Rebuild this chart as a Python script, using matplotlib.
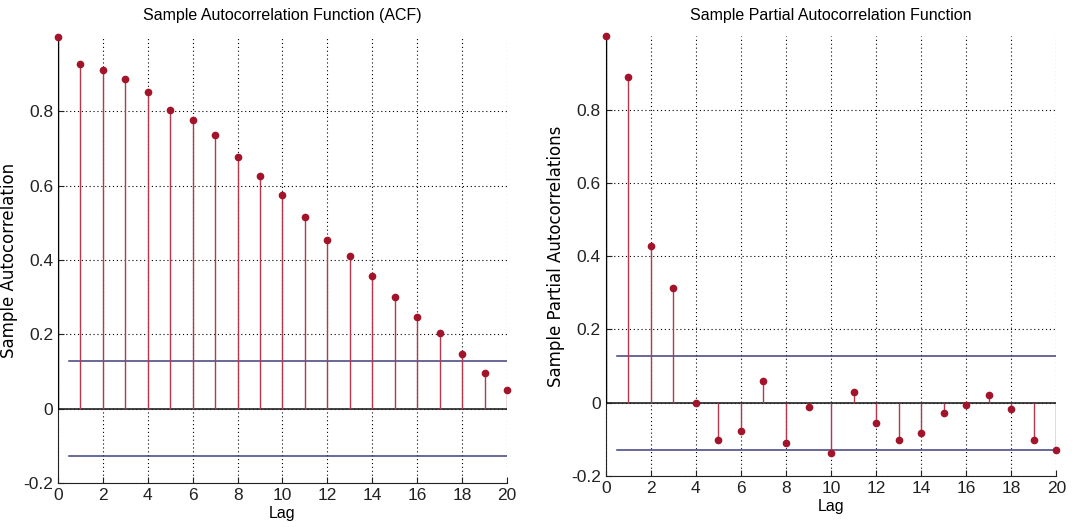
import numpy as np
import matplotlib
matplotlib.use("Agg")
import matplotlib.pyplot as plt

plt.rcParams['font.family'] = ['Liberation Sans', 'DejaVu Sans']

lags = np.arange(0, 21)
acf = [1.0, 0.929, 0.912, 0.887, 0.852, 0.803, 0.776, 0.737, 0.678, 0.626,
       0.576, 0.516, 0.454, 0.412, 0.356, 0.301, 0.248, 0.203, 0.147, 0.095, 0.050]
pacf = [1.0, 0.890, 0.427, 0.314, 0.0, -0.101, -0.077, 0.060, -0.111, -0.011,
        -0.137, 0.028, -0.056, -0.101, -0.083, -0.028, -0.007, 0.021, -0.017, -0.101, -0.129]
acf_bound = 0.128
pacf_bound = 0.128

titles = ["Sample Autocorrelation Function (ACF)", "Sample Partial Autocorrelation Function"]
ylabels = ["Sample Autocorrelation", "Sample Partial Autocorrelations"]

stem_red = '#b23a4c'
dot_red = '#a3132a'
bound_blue = '#40407e'

fig = plt.figure(figsize=(10.78, 5.27), dpi=100)
ax1 = fig.add_axes([0.0538, 0.0835, 0.4165, 0.846])
ax2 = fig.add_axes([0.5619, 0.0968, 0.418, 0.834])


def draw(ax, vals, bound, title, ylabel):
    ax.vlines(lags[1:], 0, vals[1:], color=stem_red, lw=1.0, zorder=3)
    ax.vlines(lags[0], 0, vals[0], color='black', lw=1.0, zorder=3)
    ax.plot(lags, vals, 'o', color=dot_red, ms=4.5, zorder=4, clip_on=False)
    ax.axhline(0, color='#222222', lw=1.2, zorder=2)
    ax.plot([0.5, 20], [bound, bound], color=bound_blue, lw=1.1, zorder=2)
    ax.plot([0.5, 20], [-bound, -bound], color=bound_blue, lw=1.1, zorder=2)
    ax.set_xlim(0, 20)
    ax.set_ylim(-0.2, 1.0)
    ax.set_xticks(np.arange(0, 21, 2))
    ax.set_yticks([-0.2, 0, 0.2, 0.4, 0.6, 0.8])
    ax.set_yticklabels(['-0.2', '0', '0.2', '0.4', '0.6', '0.8'])
    ax.grid(True, color='black', ls=(0, (1, 2.5)), lw=0.8)
    ax.tick_params(direction='in', labelsize=12.5, length=4, colors='#222222')
    for s in ['top', 'right']:
        ax.spines[s].set_visible(False)
    for s in ['left', 'bottom']:
        ax.spines[s].set_color('#222222')
    ax.set_title(title, fontsize=11.5, pad=12)
    ax.set_ylabel(ylabel, fontsize=12, family=['DejaVu Sans'], labelpad=4)
    ax.set_xlabel('Lag', fontsize=11.5, labelpad=2)


draw(ax1, acf, acf_bound, titles[0], ylabels[0])
draw(ax2, pacf, pacf_bound, titles[1], ylabels[1])

fig.savefig('out.png', dpi=100)
